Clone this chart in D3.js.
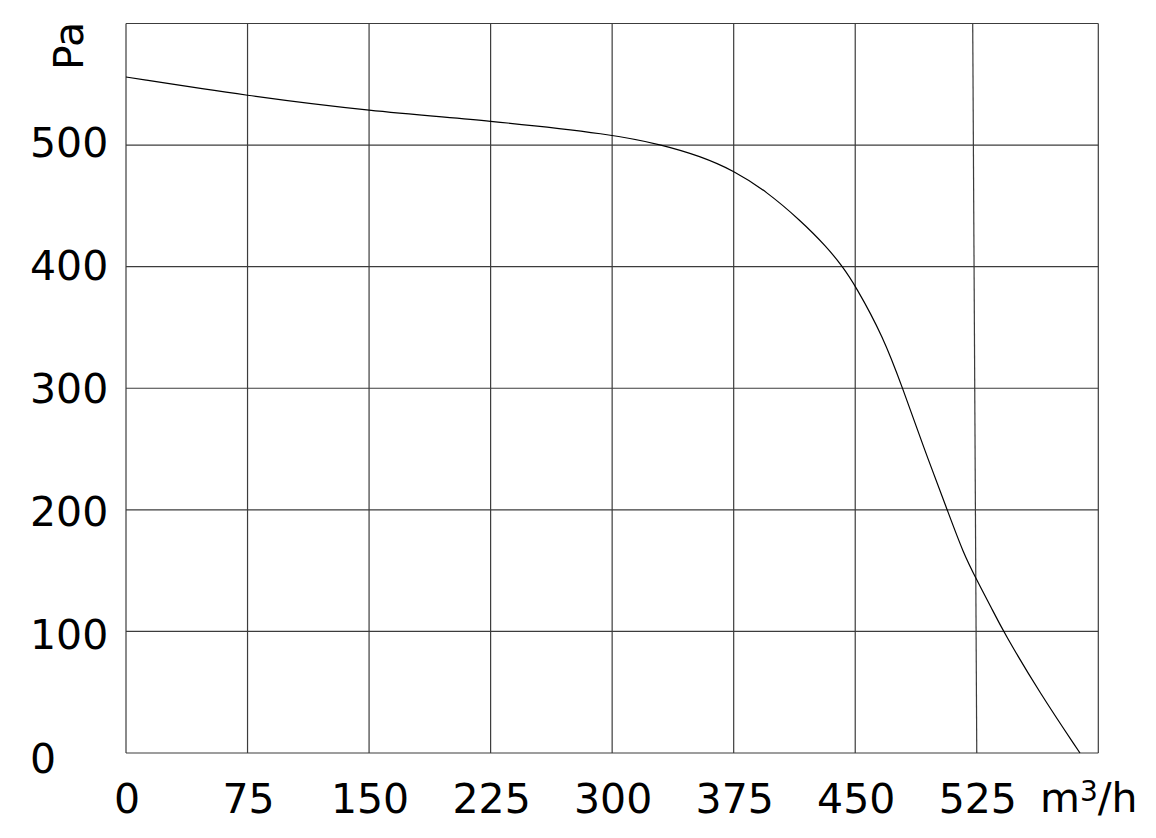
<!DOCTYPE html>
<html>
<head>
<meta charset="utf-8">
<script src="https://cdn.jsdelivr.net/npm/d3@7"></script>
<style>
  html, body { margin: 0; padding: 0; background: #fff; }
  svg { display: block; }
  text { font-family: "DejaVu Sans", Verdana, sans-serif; fill: #000; }
</style>
</head>
<body>
<svg id="chart" width="1156" height="838"></svg>
<script>
// ---- data ----
const flowValues = [0, 75, 150, 225, 300, 331.5, 354.2, 375.2, 395.4, 415.9, 432.4, 442.2, 449.9, 467.3, 479.3, 492, 506.8, 516.7, 525, 534.2, 541.4, 564, 588.7];
const pressureValues = [556, 540.5, 528, 520, 509, 500, 491, 479, 461.7, 438.4, 416.4, 400, 384.9, 342.4, 300, 252, 200, 164.3, 142.3, 119, 99.8, 49.1, 0];
const xTicks = [0, 75, 150, 225, 300, 375, 450, 525];
const xGrid = [0, 75, 150, 225, 300, 375, 450, 525, 600];
const yTicks = [0, 100, 200, 300, 400, 500];
const yGrid = [0, 100, 200, 300, 400, 500, 600];
const xDomain = [0, 600];
const yDomain = [0, 600];
const skewedGridValue = 525;      // that grid line leans slightly in the reference
const skewedGridTopValue = 522.5;

// ---- layout ----
const svg = d3.select("#chart");
const x = d3.scaleLinear().domain(xDomain).range([126, 1098.3]);
const y = d3.scaleLinear().domain(yDomain).range([753, 23.5]);
// tick labels in the reference sit on a slightly wider spacing than the grid
const yLabel = d3.scaleLinear().domain([0, 500]).range([772.5, 157]);

const gridColor = "#3c3c3c";

// horizontal grid
svg.append("g").selectAll("line").data(yGrid).join("line")
  .attr("x1", x(xDomain[0])).attr("x2", x(xDomain[1]))
  .attr("y1", d => y(d)).attr("y2", d => y(d))
  .attr("stroke", gridColor).attr("stroke-width", 1.2);

// vertical grid
svg.append("g").selectAll("line").data(xGrid).join("line")
  .attr("x1", d => x(d === skewedGridValue ? skewedGridTopValue : d))
  .attr("x2", d => x(d))
  .attr("y1", y(yDomain[1])).attr("y2", y(yDomain[0]))
  .attr("stroke", gridColor).attr("stroke-width", 1.2);

// curve
const line = d3.line()
  .x(d => x(d[0])).y(d => y(d[1]))
  .curve(d3.curveBasis);
svg.append("path")
  .datum(flowValues.map((f, i) => [f, pressureValues[i]]))
  .attr("d", line)
  .attr("fill", "none")
  .attr("stroke", "#000")
  .attr("stroke-width", 1.2);

// x tick labels
svg.append("g").selectAll("text").data(xTicks).join("text")
  .attr("x", d => x(d) + 1)
  .attr("y", 813)
  .attr("text-anchor", "middle")
  .attr("font-size", 41)
  .text(d => d);

// y tick labels
svg.append("g").selectAll("text").data(yTicks).join("text")
  .attr("x", 30)
  .attr("y", d => yLabel(d))
  .attr("text-anchor", "start")
  .attr("font-size", 41)
  .text(d => d);

// x unit
const unit = svg.append("text")
  .attr("x", 1040)
  .attr("y", 812)
  .attr("font-size", 41);
unit.append("tspan").text("m");
unit.append("tspan").attr("font-size", 28).attr("dy", -11).text("3");
unit.append("tspan").attr("dy", 11).text("/h");

// y unit
svg.append("text")
  .attr("transform", "translate(83,46) rotate(-90)")
  .attr("text-anchor", "middle")
  .attr("font-size", 41)
  .text("Pa");
</script>
</body>
</html>
